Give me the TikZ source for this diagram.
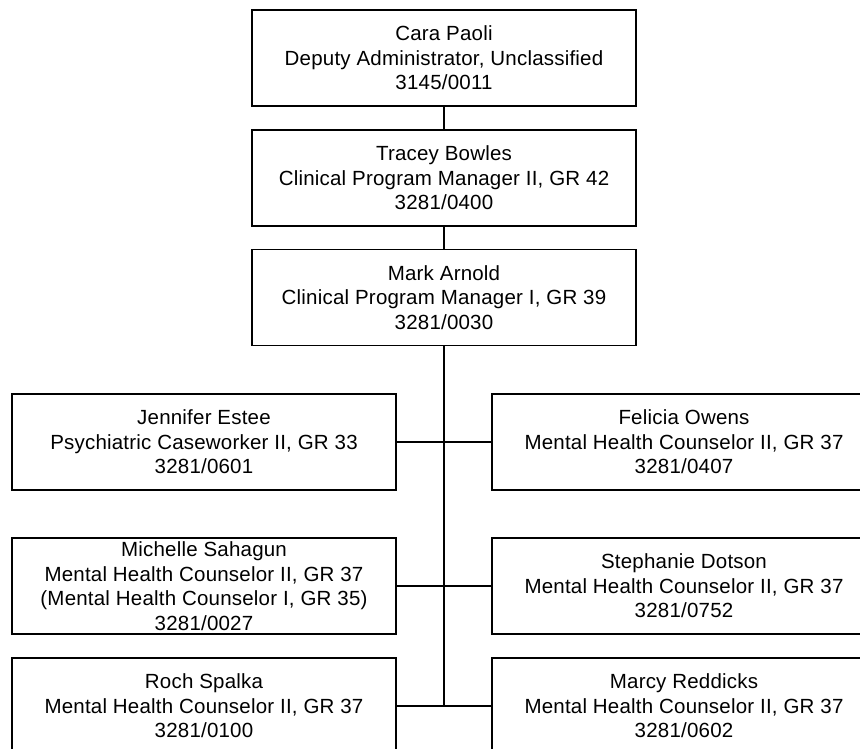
\documentclass[tikz,border=0pt]{standalone}
\usepackage{fontspec}
\setmainfont{Liberation Sans}[LetterSpace=1]
\begin{document}
\begin{tikzpicture}[x=1pt,y=-1pt,
  orgbox/.style={draw=black, line width=1.5pt, fill=white, minimum width=384pt, minimum height=96pt,
    inner sep=0pt, align=center, font=\fontsize{20.5}{24.6}\selectfont},
  link/.style={draw=black, line width=1.5pt}]
\useasboundingbox (0,0) rectangle (860,748);
\clip (0,0) rectangle (860,748);
\fill[white] (0,0) rectangle (860,748);
\node[orgbox] (cara) at (444,58) {Cara Paoli\\Deputy Administrator, Unclassified\\3145/0011};
\node[orgbox] (tracey) at (444,178) {Tracey Bowles\\Clinical Program Manager II, GR 42\\3281/0400};
\node[orgbox] (mark) at (444,297.5) {Mark Arnold\\Clinical Program Manager I, GR 39\\3281/0030};
\node[orgbox] (jen) at (204,442) {Jennifer Estee\\Psychiatric Caseworker II, GR 33\\3281/0601};
\node[orgbox] (fel) at (684,442) {Felicia Owens\\Mental Health Counselor II, GR 37\\3281/0407};
\node[orgbox] (mic) at (204,586) {Michelle Sahagun\\Mental Health Counselor II, GR 37\\(Mental Health Counselor I, GR 35)\\3281/0027};
\node[orgbox] (ste) at (684,586) {Stephanie Dotson\\Mental Health Counselor II, GR 37\\3281/0752};
\node[orgbox] (roch) at (204,706) {Roch Spalka\\Mental Health Counselor II, GR 37\\3281/0100};
\node[orgbox] (mar) at (684,706) {Marcy Reddicks\\Mental Health Counselor II, GR 37\\3281/0602};
\coordinate (trunkend) at (mark.south |- roch.east);
\draw[link] (cara) -- (tracey);
\draw[link] (tracey) -- (mark);
\draw[link] (mark.south) -- (trunkend);
\draw[link] (jen.east) -- (fel.west);
\draw[link] (mic.east) -- (ste.west);
\draw[link] (roch.east) -- (mar.west);
\end{tikzpicture}
\end{document}
